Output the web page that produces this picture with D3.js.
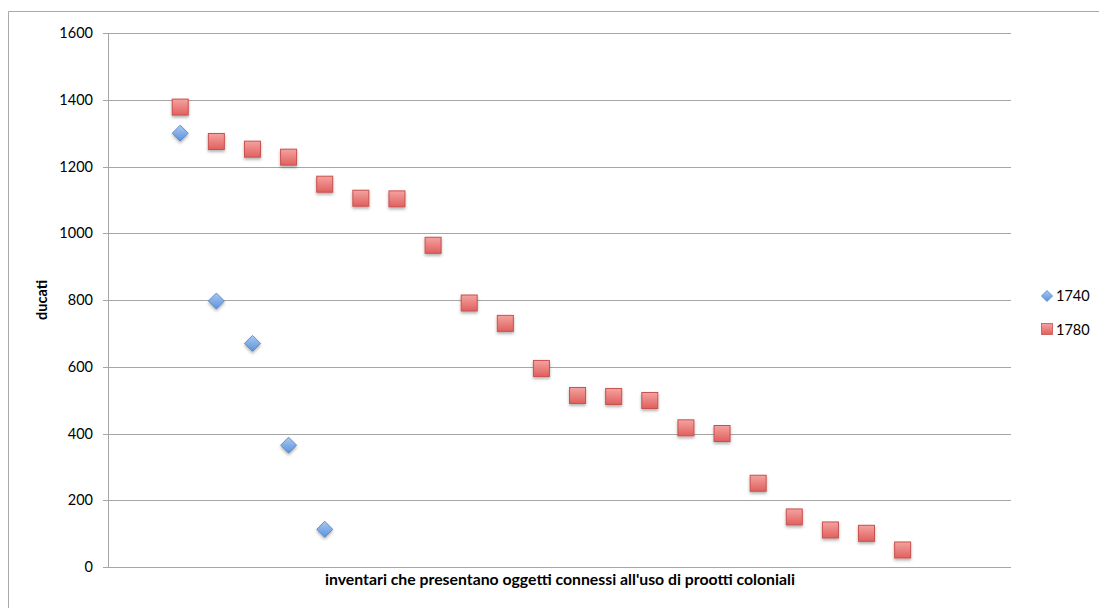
<!DOCTYPE html>
<html><head><meta charset="utf-8">
<script src="https://cdn.jsdelivr.net/npm/d3@7"></script>
<style>body{margin:0;background:#fff;}svg{display:block;font-family:Lato,"Open Sans",sans-serif;}</style>
</head><body>
<svg id="c" width="1099" height="608"></svg>
<script>
const yTicks = [0,200,400,600,800,1000,1200,1400,1600];
const xs1740 = [2,3,4,5,6];
const v1740 = [1300,797,670,365,113];
const xs1780 = [2,3,4,5,6,7,8,9,10,11,12,13,14,15,16,17,18,19,20,21,22];
const v1780 = [1378,1275,1252,1228,1147,1105,1103,964,791,730,595,514,511,499,417,400,251,150,111,101,51];
const seriesNames = ["1740","1780"];
const yTitle = "ducati";
const xTitle = "inventari che presentano oggetti connessi all'uso di prootti coloniali";

const svg = d3.select("#c");
const defs = svg.append("defs");
const gr = defs.append("linearGradient").attr("id","gr").attr("x1",0).attr("y1",0).attr("x2",0).attr("y2",1);
gr.append("stop").attr("offset","0").attr("stop-color","#f4a3a1");
gr.append("stop").attr("offset","1").attr("stop-color","#e0605d");
const gb = defs.append("linearGradient").attr("id","gb").attr("x1",0).attr("y1",0).attr("x2",0).attr("y2",1);
gb.append("stop").attr("offset","0").attr("stop-color","#a9c8f0");
gb.append("stop").attr("offset","1").attr("stop-color","#5b93dc");
const sh = defs.append("filter").attr("id","sh").attr("x","-50%").attr("y","-50%").attr("width","200%").attr("height","200%");
sh.append("feDropShadow").attr("dx",0).attr("dy",2).attr("stdDeviation",1.5).attr("flood-color","#000").attr("flood-opacity",0.3);

// outer frame
svg.append("path").attr("d","M8.5,608 V11.5 H1099").attr("fill","none").attr("stroke","#aaa").attr("stroke-width",1);

const x = d3.scaleLinear().domain([0,25]).range([108,1011]);
const y = d3.scaleLinear().domain([0,1600]).range([567,33]);

// gridlines
svg.append("g").selectAll("line").data(yTicks).join("line")
  .attr("x1",103).attr("x2",1011)
  .attr("y1",d=>Math.round(y(d))+0.5).attr("y2",d=>Math.round(y(d))+0.5)
  .attr("stroke","#a6a6a6").attr("stroke-width",1);
// y axis line
svg.append("line").attr("x1",108.5).attr("x2",108.5).attr("y1",y(1600)).attr("y2",y(0)).attr("stroke","#a6a6a6");
// tick labels
svg.append("g").selectAll("text").data(yTicks).join("text")
  .attr("x",93).attr("y",d=>y(d)).attr("dy","0.35em").attr("text-anchor","end")
  .attr("font-size",14.5).attr("fill","#000").text(d=>d);

svg.append("text").attr("transform",`translate(47,${(y(0)+y(1600))/2}) rotate(-90)`)
  .attr("text-anchor","middle").attr("font-size",14.5).attr("font-weight","bold").text(yTitle);
svg.append("text").attr("x",560).attr("y",585).attr("text-anchor","middle")
  .attr("font-size",15.8).attr("font-weight","bold").text(xTitle);

const d1780 = xs1780.map((v,i)=>({x:v,y:v1780[i]}));
const d1740 = xs1740.map((v,i)=>({x:v,y:v1740[i]}));

svg.append("g").selectAll("rect").data(d1780).join("rect")
  .attr("x",d=>x(d.x)-8).attr("y",d=>y(d.y)-8).attr("width",16).attr("height",16)
  .attr("fill","url(#gr)").attr("stroke","#c9504d").attr("stroke-width",1).attr("filter","url(#sh)");

const diamond = "M0,-8 L8,0 L0,8 L-8,0 Z";
svg.append("g").selectAll("path").data(d1740).join("path")
  .attr("transform",d=>`translate(${x(d.x)},${y(d.y)})`).attr("d",diamond)
  .attr("fill","url(#gb)").attr("stroke","#4a7fc8").attr("stroke-width",0.8).attr("filter","url(#sh)");

// legend
const lg = svg.append("g");
lg.append("path").attr("transform","translate(1047,296)").attr("d","M0,-5.5 L5.5,0 L0,5.5 L-5.5,0 Z")
  .attr("fill","url(#gb)").attr("stroke","#4a7fc8").attr("stroke-width",0.8);
lg.append("text").attr("x",1056).attr("y",296).attr("dy","0.35em").attr("font-size",14.5).text(seriesNames[0]);
lg.append("rect").attr("x",1041.5).attr("y",323.5).attr("width",11).attr("height",11)
  .attr("fill","url(#gr)").attr("stroke","#c9504d").attr("stroke-width",0.8);
lg.append("text").attr("x",1056).attr("y",330).attr("dy","0.35em").attr("font-size",14.5).text(seriesNames[1]);
</script>
</body></html>
